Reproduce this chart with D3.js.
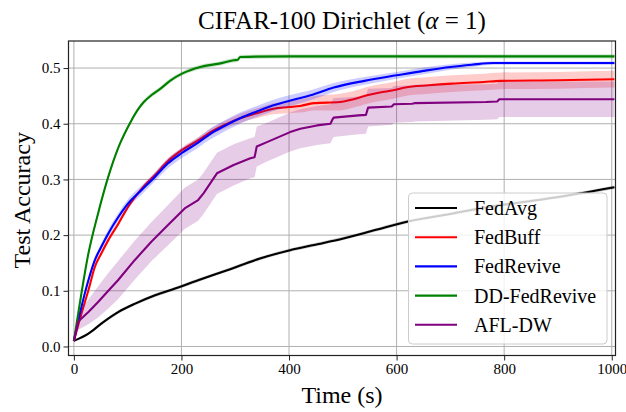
<!DOCTYPE html>
<html>
<head>
<meta charset="utf-8">
<script src="https://cdn.jsdelivr.net/npm/d3@7"></script>
<style>
  html, body { margin: 0; padding: 0; background: #fff; }
  svg { display: block; }
  text { font-family: "Liberation Serif", "DejaVu Serif", serif; fill: #000; }
</style>
</head>
<body>
<div id="chart"></div>
<script>
// ---------------- data ----------------
const seriesNames = ["FedAvg", "FedBuff", "FedRevive", "DD-FedRevive", "AFL-DW"];
const seriesColors = ["#000000", "#ff0000", "#0000ff", "#008000", "#800080"];

const timeFedAvg = [0, 27, 51, 83, 114, 151, 188, 231, 285, 346, 402, 455, 501, 560, 619, 700, 774, 840, 904, 1005];
const accFedAvg  = [0.010, 0.023, 0.041, 0.062, 0.077, 0.092, 0.104, 0.119, 0.137, 0.158, 0.173, 0.184, 0.194, 0.209, 0.224, 0.238, 0.251, 0.260, 0.269, 0.286];
const sdFedAvg   = [0, 0.002, 0.003, 0.003, 0.003, 0.003, 0.003, 0.003, 0.003, 0.003, 0.003, 0.003, 0.003, 0.003, 0.003, 0.003, 0.003, 0.003, 0.003, 0.003];

const timeFedBuff = [0, 14, 27, 39, 51, 64, 83, 101, 126, 151, 175, 200, 231, 254, 280, 309, 340, 371, 400, 421, 446, 495, 520, 545, 569, 594, 616, 660, 703, 762, 793, 900, 1005];
const accFedBuff  = [0.010, 0.059, 0.101, 0.143, 0.167, 0.191, 0.221, 0.251, 0.283, 0.308, 0.333, 0.352, 0.370, 0.385, 0.398, 0.410, 0.419, 0.427, 0.430, 0.432, 0.437, 0.439, 0.444, 0.451, 0.456, 0.460, 0.465, 0.469, 0.472, 0.475, 0.477, 0.478, 0.480];
const sdFedBuff   = [0, 0.003, 0.003, 0.003, 0.003, 0.003, 0.004, 0.004, 0.004, 0.005, 0.005, 0.005, 0.006, 0.006, 0.007, 0.008, 0.009, 0.010, 0.011, 0.012, 0.013, 0.015, 0.015, 0.015, 0.015, 0.015, 0.015, 0.015, 0.015, 0.015, 0.015, 0.015, 0.015];

const timeFedRevive = [0, 14, 27, 39, 51, 64, 83, 101, 126, 151, 175, 200, 231, 254, 280, 309, 340, 371, 408, 440, 483, 540, 600, 650, 700, 740, 780, 1005];
const accFedRevive  = [0.010, 0.071, 0.119, 0.155, 0.179, 0.203, 0.233, 0.257, 0.281, 0.305, 0.329, 0.347, 0.366, 0.382, 0.396, 0.410, 0.422, 0.433, 0.443, 0.451, 0.465, 0.477, 0.487, 0.495, 0.502, 0.506, 0.509, 0.509];
const sdFedRevive   = [0, 0.004, 0.005, 0.006, 0.006, 0.007, 0.007, 0.008, 0.008, 0.008, 0.009, 0.009, 0.009, 0.010, 0.010, 0.010, 0.010, 0.010, 0.010, 0.009, 0.008, 0.007, 0.006, 0.006, 0.005, 0.004, 0.003, 0.003];

const timeDDFedRevive = [0, 8, 27, 45, 64, 83, 107, 118, 130, 145, 161, 180, 201, 235, 270, 297, 305, 309, 400, 600, 1005];
const accDDFedRevive  = [0.010, 0.059, 0.167, 0.239, 0.305, 0.358, 0.406, 0.424, 0.439, 0.452, 0.463, 0.478, 0.490, 0.502, 0.508, 0.514, 0.515, 0.520, 0.521, 0.521, 0.521];
const sdDDFedRevive   = [0, 0.003, 0.004, 0.004, 0.004, 0.004, 0.004, 0.004, 0.004, 0.004, 0.004, 0.004, 0.004, 0.004, 0.004, 0.004, 0.004, 0.004, 0.004, 0.004, 0.004];

const timeAFLDW = [0, 8, 27, 45, 64, 82, 113, 144, 175, 206, 231, 241, 266, 297, 328, 336, 340, 359, 402, 421, 452, 477, 481, 483, 529, 543, 547, 591, 595, 629, 633, 766, 787, 791, 1005];
const accAFLDW  = [0.010, 0.045, 0.062, 0.080, 0.100, 0.119, 0.155, 0.188, 0.218, 0.248, 0.263, 0.275, 0.311, 0.326, 0.338, 0.340, 0.359, 0.367, 0.385, 0.391, 0.397, 0.400, 0.408, 0.411, 0.415, 0.416, 0.429, 0.431, 0.435, 0.436, 0.437, 0.439, 0.440, 0.444, 0.444];
const sdAFLDW   = [0, 0.015, 0.022, 0.028, 0.032, 0.034, 0.035, 0.035, 0.036, 0.037, 0.037, 0.037, 0.037, 0.037, 0.036, 0.036, 0.036, 0.035, 0.035, 0.035, 0.035, 0.035, 0.035, 0.035, 0.034, 0.034, 0.034, 0.033, 0.033, 0.033, 0.033, 0.032, 0.032, 0.032, 0.032];

const xTicks = [0, 200, 400, 600, 800, 1000];
const yTicks = [0.0, 0.1, 0.2, 0.3, 0.4, 0.5];

const titleText = "CIFAR-100 Dirichlet (";
const xLabel = "Time (s)";
const yLabel = "Test Accuracy";

// ---------------- layout ----------------
const W = 626, H = 412;
const plot = { left: 68.5, right: 615.5, top: 41, bottom: 355.5 };

const x = d3.scaleLinear().domain([-10, 1007]).range([plot.left, plot.right]);
const y = d3.scaleLinear().domain([-0.0162, 0.5486]).range([plot.bottom, plot.top]);

const svg = d3.select("#chart").append("svg").attr("width", W).attr("height", H);

svg.append("clipPath").attr("id", "clip").append("rect")
  .attr("x", plot.left).attr("y", plot.top)
  .attr("width", plot.right - plot.left).attr("height", plot.bottom - plot.top);

// grid
const grid = svg.append("g");
grid.selectAll(".gx").data(xTicks).enter().append("line")
  .attr("x1", d => x(d)).attr("x2", d => x(d))
  .attr("y1", plot.top).attr("y2", plot.bottom)
  .attr("stroke", "#b0b0b0").attr("stroke-width", 1);
grid.selectAll(".gy").data(yTicks).enter().append("line")
  .attr("x1", plot.left).attr("x2", plot.right)
  .attr("y1", d => y(d)).attr("y2", d => y(d))
  .attr("stroke", "#b0b0b0").attr("stroke-width", 1);

// series
const allSeries = [
  { t: timeFedAvg, a: accFedAvg, s: sdFedAvg, curve: d3.curveMonotoneX },
  { t: timeFedBuff, a: accFedBuff, s: sdFedBuff, curve: d3.curveMonotoneX },
  { t: timeFedRevive, a: accFedRevive, s: sdFedRevive, curve: d3.curveMonotoneX },
  { t: timeDDFedRevive, a: accDDFedRevive, s: sdDDFedRevive, curve: d3.curveMonotoneX },
  { t: timeAFLDW, a: accAFLDW, s: sdAFLDW, curve: d3.curveLinear }
];

const marks = svg.append("g").attr("clip-path", "url(#clip)");
allSeries.forEach((ser, i) => {
  const pts = ser.t.map((t, k) => ({ t, a: ser.a[k], s: ser.s[k] }));
  const area = d3.area().curve(ser.curve).x(d => x(d.t)).y0(d => y(d.a - d.s)).y1(d => y(d.a + d.s));
  const line = d3.line().curve(ser.curve).x(d => x(d.t)).y(d => y(d.a));
  marks.append("path").datum(pts).attr("d", area)
    .attr("fill", seriesColors[i]).attr("fill-opacity", 0.2).attr("stroke", "none");
  marks.append("path").datum(pts).attr("d", line)
    .attr("fill", "none").attr("stroke", seriesColors[i]).attr("stroke-width", 2.1)
    .attr("stroke-linejoin", "round");
});

// axes
const xAxis = d3.axisBottom(x).tickValues(xTicks).tickFormat(d3.format("d")).tickSizeOuter(0).tickSize(5).tickPadding(3);
const yAxis = d3.axisLeft(y).tickValues(yTicks).tickFormat(d3.format(".1f")).tickSizeOuter(0).tickSize(5).tickPadding(3);

const gx = svg.append("g").attr("transform", `translate(0,${plot.bottom})`).call(xAxis);
const gy = svg.append("g").attr("transform", `translate(${plot.left},0)`).call(yAxis);
[gx, gy].forEach(g => {
  g.select(".domain").remove();
  g.selectAll(".tick line").attr("stroke", "#222").attr("stroke-width", 1);
  g.selectAll(".tick text").attr("font-size", 15).attr("font-family", "Liberation Serif, serif").attr("fill", "#000");
});

// spines
svg.append("rect")
  .attr("x", plot.left).attr("y", plot.top)
  .attr("width", plot.right - plot.left).attr("height", plot.bottom - plot.top)
  .attr("fill", "none").attr("stroke", "#222").attr("stroke-width", 1.2);

// title
const title = svg.append("text").attr("x", (plot.left + plot.right) / 2).attr("y", 29)
  .attr("text-anchor", "middle").attr("font-size", 25);
title.append("tspan").text(titleText);
title.append("tspan").attr("font-style", "italic").text("α");
title.append("tspan").text(" = 1)");

// axis labels
svg.append("text").attr("x", (plot.left + plot.right) / 2).attr("y", 403)
  .attr("text-anchor", "middle").attr("font-size", 24).text(xLabel);
svg.append("text").attr("transform", `translate(30,${(plot.top + plot.bottom) / 2 + 2}) rotate(-90)`)
  .attr("text-anchor", "middle").attr("font-size", 24).text(yLabel);

// legend
const lg = svg.append("g");
lg.append("rect").attr("x", 408.5).attr("y", 193).attr("width", 198.5).attr("height", 151)
  .attr("rx", 4).attr("fill", "#fff").attr("fill-opacity", 0.8)
  .attr("stroke", "#cccccc").attr("stroke-width", 1);
seriesNames.forEach((name, i) => {
  const yy = 208 + i * 29.2;
  lg.append("line").attr("x1", 415).attr("x2", 457).attr("y1", yy).attr("y2", yy)
    .attr("stroke", seriesColors[i]).attr("stroke-width", 2.1);
  lg.append("text").attr("x", 474).attr("y", yy + 7).attr("font-size", 20).text(name);
});
</script>
</body>
</html>
